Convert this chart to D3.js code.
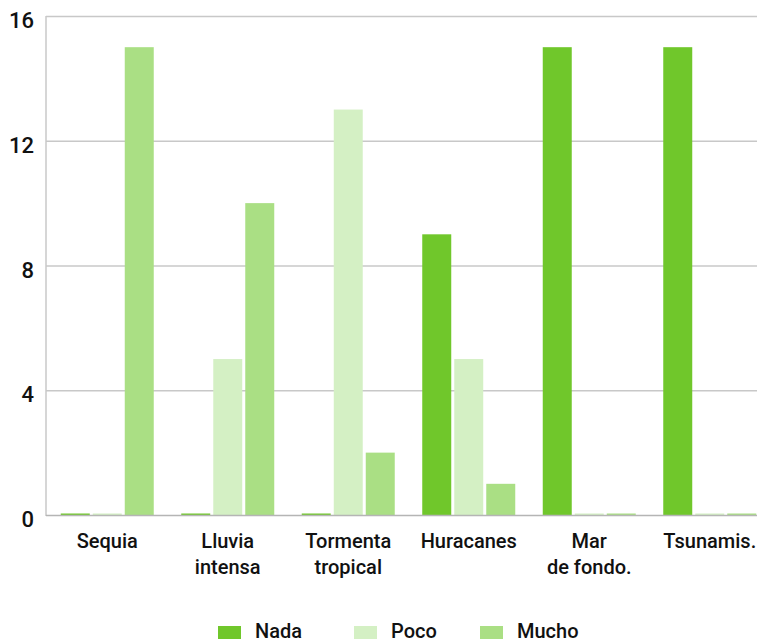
<!DOCTYPE html>
<html><head><meta charset="utf-8">
<script src="https://cdn.jsdelivr.net/npm/d3@7"></script>
<style>body{margin:0;background:#fff}svg text{font-family:Roboto,sans-serif;fill:#111}</style>
</head><body><svg id="c" width="757" height="643"></svg>
<script>
const categories = [["Sequia"],["Lluvia","intensa"],["Tormenta","tropical"],["Huracanes"],["Mar","de fondo."],["Tsunamis."]];
const seriesNames = ["Nada","Poco","Mucho"];
const nada  = [0,0,0,9,15,15];
const poco  = [0,5,13,5,0,0];
const mucho = [15,10,2,1,0,0];
const yTicks = [0,4,8,12,16];
const colors = ["#70C72B","#D4F0C4","#AADF84"];

const svg = d3.select("#c");
const values = [nada, poco, mucho];
const x0 = d3.scaleBand().domain(d3.range(categories.length)).range([47,770]);
const x1 = d3.scaleBand().domain(seriesNames).range([13.75, 106.75]).paddingInner(0.094);
const y = d3.scaleLinear().domain([0,16]).range([515,16]);

// grid
svg.append("g").selectAll("line").data(yTicks.filter(d=>d>0)).join("line")
  .attr("x1",46).attr("x2",757).attr("y1",d=>y(d)+0.5).attr("y2",d=>y(d)+0.5)
  .attr("stroke","#c8c8c8").attr("stroke-width",1.5);
svg.append("line").attr("x1",46).attr("x2",46).attr("y1",y(16)).attr("y2",y(0)+1)
  .attr("stroke","#c8c8c8").attr("stroke-width",1.5);

// tick labels
svg.append("g").selectAll("text").data(yTicks).join("text")
  .attr("x",34).attr("y",d=>y(d)+12).attr("text-anchor","end")
  .style("font-size","22px").style("font-weight","500").text(d=>d);

// bars
categories.forEach((c,i)=>{
  seriesNames.forEach((s,j)=>{
    const v = values[j][i];
    const h = v===0 ? 1.5 : y(0)-y(v);
    svg.append("rect").attr("x",x0(i)+x1(s)).attr("width",x1.bandwidth())
      .attr("y",y(0)-h).attr("height",h).attr("fill",colors[j]);
  });
});
// baseline
svg.append("line").attr("x1",46).attr("x2",757).attr("y1",y(0)+0.5).attr("y2",y(0)+0.5)
  .attr("stroke","#b5b5b5").attr("stroke-width",1.5);

// category labels
categories.forEach((c,i)=>{
  const cx = x0(i)+x1("Poco")+x1.bandwidth()/2;
  const t = svg.append("text").attr("text-anchor","middle").attr("x",cx).attr("y",548)
    .style("font-size","20px").style("font-weight","500");
  c.forEach((line,k)=>t.append("tspan").attr("x",cx).attr("dy",k===0?0:26).text(line));
});

// legend
const legX = [218,354,480];
seriesNames.forEach((s,j)=>{
  svg.append("rect").attr("x",legX[j]).attr("y",626).attr("width",23).attr("height",13).attr("fill",colors[j]);
  svg.append("text").attr("x",legX[j]+37).attr("y",638).style("font-size","20px").style("font-weight","500").text(s);
});
</script></body></html>
